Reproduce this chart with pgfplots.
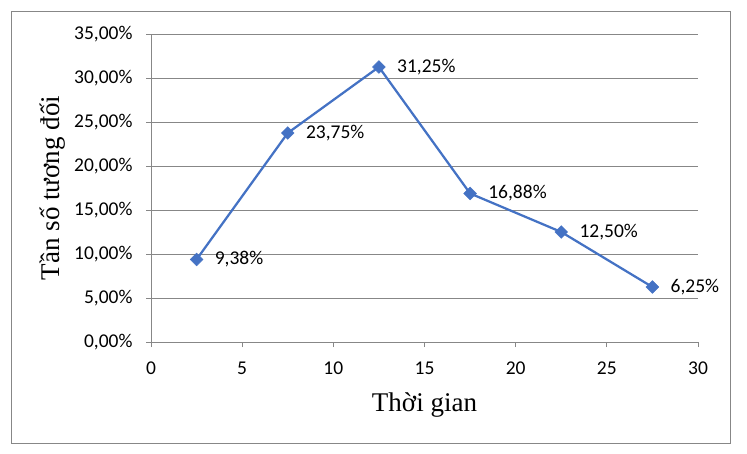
\documentclass[border=0pt]{standalone}
\usepackage{pgfplots}
\pgfplotsset{compat=1.18}
\usepackage{fontspec}
\setmainfont{Carlito}
\newfontfamily\timesf{Liberation Serif}
\definecolor{ln}{HTML}{4472C4}
\definecolor{gr}{HTML}{878787}
\begin{document}
\begin{tikzpicture}[x=1pt,y=1pt]
\useasboundingbox (0,0) rectangle (747,453);
\draw[gr, line width=1pt] (11,10) rectangle (730,441);
\begin{axis}[
  at={(151pt,111pt)}, anchor=south west,
  scale only axis, width=547pt, height=308pt,
  xmin=0, xmax=30, ymin=0, ymax=35,
  xtick={0,5,...,30}, ytick={0,5,...,35},
  axis x line*=bottom, axis y line*=left,
  axis line style={gr, line width=1pt},
  tick align=outside, major tick length=5pt,
  tick style={gr, line width=1pt},
  ymajorgrids, grid style={gr, line width=1pt},
  /pgf/number format/assume math mode=true,
  ticklabel style={font=\fontsize{19.5}{22}\selectfont, black},
  xticklabel style={anchor=center, yshift=-21pt},
  yticklabel style={anchor=east, xshift=-10pt},
  yticklabel={\pgfmathprintnumber[fixed,fixed zerofill,precision=2,use comma,assume math mode=true]{\tick}\%},
  xlabel={Thời gian},
  ylabel={Tần số tương đối},
  xlabel style={font=\timesf\fontsize{27}{30}\selectfont, at={(axis description cs:0.5,-0.205)}, anchor=center},
  ylabel style={font=\timesf\fontsize{27}{30}\selectfont, at={(axis description cs:-0.18,0.5)}, anchor=center},
  clip=false,
]
\addplot[ln, line width=2.25pt, mark=square*, mark size=4.5pt,
  mark options={rotate=45, fill=ln, draw=ln, line width=0.5pt},
  point meta=y,
  nodes near coords={\pgfmathprintnumber[fixed,fixed zerofill,precision=2,use comma,assume math mode=true]{\pgfplotspointmeta}\%},
  nodes near coords style={anchor=west, xshift=18pt, yshift=0pt, inner sep=0pt, font=\fontsize{19.5}{22}\selectfont, black},
] coordinates {
  (2.5,9.38) (7.5,23.75) (12.5,31.25) (17.5,16.88) (22.5,12.50) (27.5,6.25)
};
\end{axis}
\end{tikzpicture}
\end{document}
